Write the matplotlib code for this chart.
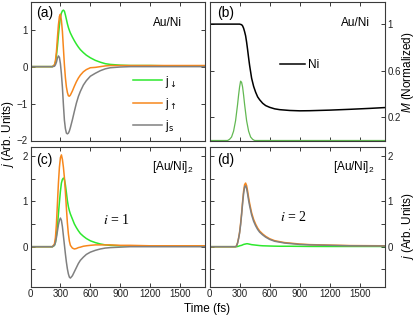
import numpy as np
import matplotlib
matplotlib.use('Agg')
import matplotlib.pyplot as plt
from matplotlib.ticker import MultipleLocator, FixedLocator
from matplotlib.font_manager import FontProperties

plt.rcParams['font.family'] = ['Liberation Sans', 'DejaVu Sans']
plt.rcParams['mathtext.fontset'] = 'custom'
plt.rcParams['mathtext.rm'] = 'Liberation Sans'
plt.rcParams['mathtext.it'] = 'Liberation Sans:italic'

# time grid (fs) shared by the current curves
t = [0, 200, 220, 240, 250, 260, 270, 280, 290, 300, 310, 320, 330, 340, 350,
     360, 370, 380, 390, 400, 420, 440, 460, 480, 500, 530, 560, 600, 650, 700,
     750, 800, 900, 1000, 1200, 1400, 1750]

# (a) Au/Ni
a_down = [0, 0, 0, 0.04, 0.12, 0.30, 0.55, 0.85, 1.12, 1.33, 1.45, 1.51, 1.53, 1.50, 1.40,
          1.28, 1.16, 1.06, 0.98, 0.91, 0.80, 0.70, 0.61, 0.53, 0.46, 0.38, 0.31, 0.24, 0.17, 0.12,
          0.08, 0.06, 0.04, 0.03, 0.03, 0.02, 0.02]
a_up = [0, 0, 0, 0.05, 0.16, 0.40, 0.78, 1.13, 1.36, 1.42, 1.25, 0.95, 0.50, 0.05, -0.30,
        -0.55, -0.70, -0.79, -0.80, -0.77, -0.66, -0.53, -0.41, -0.31, -0.23, -0.14, -0.08, -0.03, -0.02, 0.0,
        0.02, 0.03, 0.03, 0.03, 0.03, 0.03, 0.03]
a_s = [0, 0, 0, 0.01, 0.05, 0.12, 0.23, 0.29, 0.25, 0.08, -0.20, -0.56, -1.03, -1.45, -1.68,
       -1.80, -1.82, -1.80, -1.74, -1.65, -1.44, -1.21, -0.99, -0.81, -0.67, -0.50, -0.38, -0.26, -0.18, -0.11,
       -0.06, -0.03, -0.01, 0.0, 0.0, 0.0, 0.0]

# (c) [Au/Ni]2, i = 1
c_down = [0, 0, 0, 0.03, 0.10, 0.25, 0.45, 0.72, 0.98, 1.22, 1.40, 1.48, 1.51, 1.48, 1.36,
          1.19, 1.01, 0.88, 0.79, 0.72, 0.61, 0.50, 0.42, 0.35, 0.29, 0.23, 0.18, 0.13, 0.09, 0.06,
          0.04, 0.03, 0.02, 0.02, 0.01, 0.01, 0.01]
c_up = [0, 0, 0, 0.06, 0.20, 0.50, 0.95, 1.40, 1.75, 1.96, 2.02, 1.92, 1.75, 1.52, 1.20,
        0.85, 0.52, 0.28, 0.12, 0.03, -0.03, -0.05, -0.04, -0.02, -0.01, 0.01, 0.02, 0.03, 0.04, 0.04,
        0.04, 0.04, 0.03, 0.03, 0.02, 0.02, 0.02]
c_s = [0, 0, 0, 0.03, 0.09, 0.20, 0.34, 0.48, 0.58, 0.63, 0.58, 0.44, 0.24, 0.04, -0.16,
       -0.34, -0.49, -0.60, -0.67, -0.69, -0.64, -0.55, -0.46, -0.37, -0.30, -0.23, -0.17, -0.12, -0.08, -0.05,
       -0.03, -0.02, -0.01, 0.0, 0.0, 0.0, 0.0]

# (d) [Au/Ni]2, i = 2
d_down = [0, 0, 0, 0, 0, 0, 0, 0.005, 0.01, 0.02, 0.025, 0.03, 0.04, 0.05, 0.055,
          0.06, 0.065, 0.065, 0.06, 0.055, 0.045, 0.04, 0.035, 0.03, 0.025, 0.02, 0.018, 0.015, 0.012, 0.01,
          0.01, 0.01, 0.008, 0.006, 0.005, 0.005, 0.005]
d_s = [0, 0, 0, 0, 0, 0, 0.02, 0.08, 0.18, 0.30, 0.48, 0.70, 0.95, 1.17, 1.31,
       1.34, 1.28, 1.16, 1.02, 0.90, 0.70, 0.56, 0.46, 0.38, 0.32, 0.26, 0.21, 0.16, 0.12, 0.10,
       0.08, 0.07, 0.05, 0.04, 0.03, 0.02, 0.015]
d_up = [0, 0, 0, 0, 0, 0, 0.02, 0.085, 0.19, 0.32, 0.505, 0.73, 0.99, 1.22, 1.365,
        1.40, 1.345, 1.225, 1.08, 0.955, 0.745, 0.60, 0.495, 0.41, 0.345, 0.28, 0.228, 0.175, 0.132, 0.11,
        0.09, 0.08, 0.058, 0.046, 0.035, 0.025, 0.02]

# (b) magnetization of Ni and laser pulse
t_m = [0, 280, 300, 320, 330, 340, 350, 360, 370, 380, 390, 400, 410, 420, 440, 460, 480,
       500, 530, 560, 600, 650, 700, 800, 900, 1000, 1200, 1400, 1600, 1750]
m_ni = [1.0, 1.0, 1.0, 0.995, 0.985, 0.965, 0.935, 0.90, 0.845, 0.78, 0.71, 0.645, 0.59, 0.535, 0.465, 0.415, 0.375,
        0.35, 0.32, 0.30, 0.285, 0.272, 0.265, 0.258, 0.255, 0.256, 0.261, 0.268, 0.276, 0.283]
t_p = [0, 180, 200, 220, 240, 260, 280, 290, 300, 310, 320, 330, 340, 350, 370, 390, 410, 430, 450, 1750]
pulse = [0, 0, 0.01, 0.03, 0.08, 0.17, 0.31, 0.39, 0.46, 0.51, 0.50, 0.46, 0.39, 0.31, 0.17, 0.08, 0.03, 0.01, 0, 0]

c_green = '#2ee82e'
c_orange = '#f7871c'
c_gray = '#808080'
c_pulse = '#62b852'
spine_c = '#3a3a3a'

fig = plt.figure(figsize=(4.15, 3.17), dpi=100)
W, H = 415, 317


def add_ax(x0, y0, x1, y1):
    return fig.add_axes([x0 / W, 1 - y1 / H, (x1 - x0) / W, (y1 - y0) / H])


ax_a = add_ax(30.5, 2, 205, 140.5)
ax_b = add_ax(209.5, 2, 385, 140.5)
ax_c = add_ax(30.5, 146.7, 205, 286.7)
ax_d = add_ax(209.5, 146.7, 385, 286.7)

lw = 1.1
ax_a.plot(t, a_down, color=c_green, lw=lw, label='j$_{\\downarrow}$')
ax_a.plot(t, a_up, color=c_orange, lw=lw, label='j$_{\\uparrow}$')
ax_a.plot(t, a_s, color=c_gray, lw=lw, label='j$_{\\rm s}$')

ax_b.plot(t_p, pulse, color=c_pulse, lw=0.9)
ax_b.plot(t_m, m_ni, color='black', lw=1.1, label='Ni')

ax_c.plot(t, c_down, color=c_green, lw=lw)
ax_c.plot(t, c_up, color=c_orange, lw=lw)
ax_c.plot(t, c_s, color=c_gray, lw=lw)

ax_d.plot(t, d_down, color=c_green, lw=lw)
ax_d.plot(t, d_up, color=c_orange, lw=lw)
ax_d.plot(t, d_s, color=c_gray, lw=lw)

for ax in [ax_a, ax_b, ax_c, ax_d]:
    ax.set_xlim(0, 1750)
    ax.xaxis.set_major_locator(MultipleLocator(300))
    ax.tick_params(which='both', direction='in', top=True, bottom=True, left=True, right=True,
                   length=2.8, width=0.7, colors=spine_c, labelsize=7, labelcolor='#222222', pad=2)
    for s in ax.spines.values():
        s.set_color(spine_c)
        s.set_linewidth(0.8)

ax_a.set_ylim(-2, 1.75)
ax_a.yaxis.set_major_locator(FixedLocator([-2, -1, 0, 1]))
ax_a.tick_params(labelbottom=False)

ax_b.set_ylim(0, 1.19)
ax_b.yaxis.set_major_locator(FixedLocator([0.2, 0.6, 1.0]))
ax_b.yaxis.set_major_formatter(lambda v, p: '%g' % v)
ax_b.tick_params(labelbottom=False, labelleft=False, labelright=True)

for ax in [ax_c, ax_d]:
    ax.set_ylim(-0.88, 2.2)
    ax.yaxis.set_major_locator(MultipleLocator(1))
    ax.yaxis.set_minor_locator(MultipleLocator(0.5))
ax_d.tick_params(labelleft=False, labelright=True)

leg_font = FontProperties(family='Liberation Sans', size=8.5, math_fontfamily='dejavusans')
ax_a.legend(loc='center left', bbox_to_anchor=(0.587, 0.2635), frameon=False, prop=leg_font,
            handlelength=2.45, handletextpad=0.3, labelspacing=0.55, borderpad=0, borderaxespad=0)
ax_b.legend(loc='center left', bbox_to_anchor=(0.402, 0.545), frameon=False, fontsize=8.5,
            handlelength=2.1, handletextpad=0.3, borderpad=0, borderaxespad=0)

ax_a.text(0.032, 0.92, '(a)', transform=ax_a.transAxes, fontsize=10, va='center')
ax_b.text(0.041, 0.918, '(b)', transform=ax_b.transAxes, fontsize=10, va='center')
ax_c.text(0.035, 0.905, '(c)', transform=ax_c.transAxes, fontsize=10, va='center')
ax_d.text(0.041, 0.905, '(d)', transform=ax_d.transAxes, fontsize=10, va='center')

ax_a.text(0.868, 0.848, 'Au/Ni', transform=ax_a.transAxes, fontsize=8.5, ha='right', va='center')
ax_b.text(0.915, 0.85, 'Au/Ni', transform=ax_b.transAxes, fontsize=8.5, ha='right', va='center')
ax_c.text(0.933, 0.857, '[Au/Ni]$_2$', transform=ax_c.transAxes, fontsize=8.5, ha='right', va='center')
ax_d.text(0.943, 0.857, '[Au/Ni]$_2$', transform=ax_d.transAxes, fontsize=8.5, ha='right', va='center')

ax_c.text(0.494, 0.476, '$i$ = 1', transform=ax_c.transAxes, fontsize=10, ha='center', va='center',
          family='Liberation Serif', math_fontfamily='stix')
ax_d.text(0.476, 0.498, '$i$ = 2', transform=ax_d.transAxes, fontsize=10, ha='center', va='center',
          family='Liberation Serif', math_fontfamily='stix')

fig.text(8 / W, 1 - 134 / H, '$j$ (Arb. Units)', rotation=90, fontsize=8.5, ha='center', va='center')
fig.text(408 / W, 1 - 72 / H, '$M$ (Normalized)', rotation=90, fontsize=8.5, ha='center', va='center')
fig.text(408 / W, 1 - 226 / H, '$j$ (Arb. Units)', rotation=90, fontsize=8.5, ha='center', va='center')
fig.text(207 / W, 1 - 309 / H, 'Time (fs)', fontsize=8.5, ha='center', va='center')

fig.savefig('out.png', dpi=100)
